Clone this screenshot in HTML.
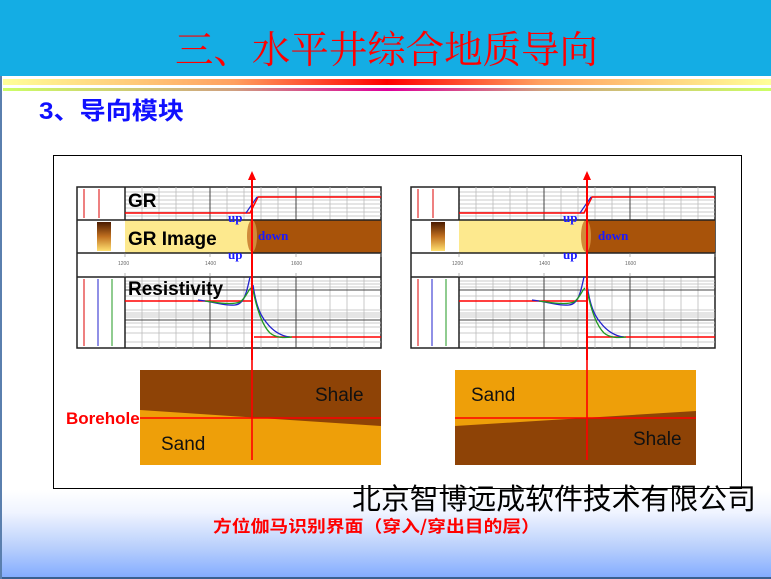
<!DOCTYPE html>
<html><head><meta charset="utf-8"><style>
html,body{margin:0;padding:0}
body{width:771px;height:579px;position:relative;overflow:hidden;background:#fff;font-family:"Liberation Sans","Noto Sans CJK SC",sans-serif}
.abs{position:absolute}
</style></head><body>
<div class="abs" style="left:0;top:0;width:771px;height:76px;background:#14ade4"></div>
<div class="abs" style="left:0;top:490px;width:771px;height:89px;background:linear-gradient(#fff,#f0f4ff 25%,#b8cffc 65%,#80aaff)"></div>
<div class="abs" style="left:0;top:577px;width:771px;height:2px;background:#3a5f8f"></div>
<div class="abs" style="left:0;top:76px;width:2px;height:503px;background:#5a7fae"></div>
<div class="abs" style="left:3px;top:79px;width:768px;height:6px;background:linear-gradient(90deg,#ffff99,#ffa060 30%,#ff0000 50%,#ffa060 70%,#ffff99)"></div>
<div class="abs" style="left:3px;top:88px;width:768px;height:3px;background:linear-gradient(90deg,#ccff66,#d0a080 30%,#dd0099 50%,#d0a080 70%,#ccff66)"></div>
<div class="abs" style="left:53px;top:155px;width:687px;height:332px;border:1px solid #000;background:#fff"></div>

<svg class="abs" style="left:0;top:0" width="771" height="579" viewBox="0 0 771 579">
<defs>
<linearGradient id="gi" x1="0" y1="0" x2="0" y2="1"><stop offset="0" stop-color="#4a1a00"/><stop offset="0.5" stop-color="#c07020"/><stop offset="1" stop-color="#ffe070"/></linearGradient>
</defs>
<text x="175" y="63" font-family="Noto Serif CJK SC, serif" font-size="38" fill="#ff0000" textLength="423" lengthAdjust="spacingAndGlyphs">三、水平井综合地质导向</text>
<text x="39" y="119" font-family="Liberation Sans, Noto Sans CJK SC, sans-serif" font-weight="bold" font-size="24" fill="#1010ff" textLength="145" lengthAdjust="spacingAndGlyphs">3、导向模块</text>
<g id="panelL">
<rect x="77" y="187" width="304" height="161" fill="#fff" stroke="#222" stroke-width="1.5"/>
<rect x="125" y="220" width="127" height="33" fill="#fde98e"/>
<rect x="252" y="220" width="129" height="33" fill="#a8530a"/>
<ellipse cx="252" cy="236" rx="5" ry="16" fill="#d08a3a"/>
<rect x="97" y="222" width="14" height="29" fill="url(#gi)"/>
<g stroke="#bbb" stroke-width="0.8">
<path d="M142 187V220M159 187V220M176 187V220M193 187V220M227 187V220M244 187V220M261 187V220M278 187V220M313 187V220M330 187V220M347 187V220M364 187V220"/>
<path d="M142 277V348M159 277V348M176 277V348M193 277V348M227 277V348M244 277V348M261 277V348M278 277V348M313 277V348M330 277V348M347 277V348M364 277V348"/>
<path d="M125 192H381M125 196H381M125 200H381M125 204H381M125 208H381M125 212H381M125 216H381"/>
<path d="M125 281H381M125 284H381M125 287H381M125 296H381M125 310H381M125 313H381M125 315H381M125 317H381M125 323H381M125 327H381M125 333H381M125 342H381"/>
</g>
<g stroke="#444" stroke-width="1">
<path d="M210 187V220M296 187V220M210 277V348M296 277V348M125 290H381M125 320H381"/>
</g>
<g stroke="#222" stroke-width="1.5" fill="none">
<path d="M77 220H381M77 253H381M77 277H381M125 187V220M125 277V348"/>
</g>
<g stroke="#888" stroke-width="0.6"><path d="M125 253v4M210 253v4M296 253v4M381 253v4M125 273v4M210 273v4M296 273v4"/></g>
<path d="M84 189V218M99 189V218" stroke="#d00" stroke-width="1"/>
<path d="M84 279V346" stroke="#d00" stroke-width="1"/>
<path d="M98 279V346" stroke="#22c" stroke-width="1"/>
<path d="M112 279V346" stroke="#292" stroke-width="1"/>
<path d="M125 213H250L258 197H381" stroke="#f00" stroke-width="1.5" fill="none"/>
<path d="M246 213L257 197" stroke="#22c" stroke-width="1.2" fill="none"/>
<path d="M125 301H252M254 337H381" stroke="#f00" stroke-width="1.5" fill="none"/>
<path d="M198 300C215 302 225 306 235 305C245 304 247 290 250 277M253 285C256 305 260 315 266 322C272 330 280 336 290 337" stroke="#22c" stroke-width="1.3" fill="none"/>
<path d="M205 301C220 303 232 305 240 302C246 298 248 290 251 288M253 290C257 310 262 325 270 333C276 338 284 338 292 337" stroke="#292" stroke-width="1.3" fill="none"/>
</g>
<use href="#panelL" transform="translate(334,0)"/>

<g stroke="#f00" stroke-width="2"><path d="M252 178V360M587 178V360"/></g>
<path d="M248 180L252 171L256 180Z M583 180L587 171L591 180Z" fill="#f00"/>

<rect x="140" y="370" width="241" height="95" fill="#ee9f09"/>
<path d="M140 370H381V426L140 410Z" fill="#8e4306"/>
<rect x="455" y="370" width="241" height="95" fill="#8e4306"/>
<path d="M455 370H696V411L455 426Z" fill="#ee9f09"/>
<g stroke="#f00" stroke-width="1.6"><path d="M140 418H381M455 418H696M252 360V460M587 360V460"/></g>

<g font-family="Liberation Sans, sans-serif">
<text x="128" y="207" font-size="19" font-weight="bold" fill="#000">GR</text>
<text x="128" y="245" font-size="19" font-weight="bold" fill="#000">GR Image</text>
<text x="128" y="295" font-size="19" font-weight="bold" fill="#000">Resistivity</text>
<text x="315" y="401" font-size="19" fill="#111">Shale</text>
<text x="161" y="450" font-size="19" fill="#111">Sand</text>
<text x="471" y="401" font-size="19" fill="#111">Sand</text>
<text x="633" y="445" font-size="19" fill="#111">Shale</text>
<text x="66" y="424" font-size="17" font-weight="bold" fill="#f00">Borehole</text>
<g font-size="5" fill="#666"><text x="118" y="265">1200</text><text x="205" y="265">1400</text><text x="291" y="265">1600</text><text x="452" y="265">1200</text><text x="539" y="265">1400</text><text x="625" y="265">1600</text></g>
</g>
<g font-family="Liberation Serif, serif" font-weight="bold" font-size="13" fill="#1a1aff">
<text x="228" y="222">up</text><text x="228" y="259">up</text><text x="258" y="240">down</text>
<text x="563" y="222">up</text><text x="563" y="259">up</text><text x="598" y="240">down</text>
</g>
<text x="352" y="509" font-family="Noto Sans CJK SC, sans-serif" font-size="29" fill="#000" textLength="404" lengthAdjust="spacingAndGlyphs">北京智博远成软件技术有限公司</text>
<text x="213" y="532" font-family="Noto Sans CJK SC, sans-serif" font-size="16.5" font-weight="bold" fill="#f00" textLength="327" lengthAdjust="spacingAndGlyphs">方位伽马识别界面（穿入/穿出目的层）</text>
</svg>
</body></html>
